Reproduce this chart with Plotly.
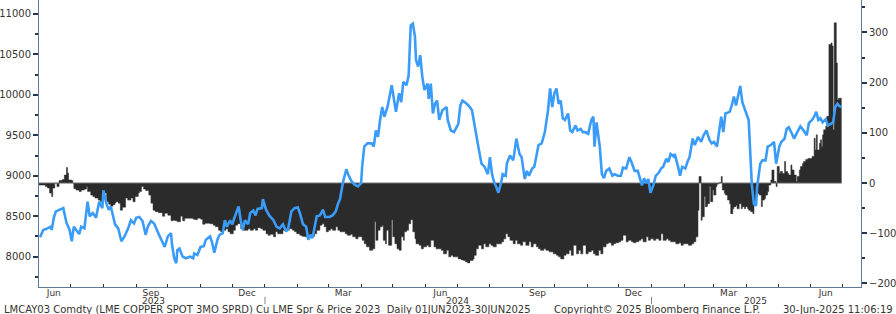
import pandas as pd
import plotly.graph_objects as go

start = pd.Timestamp("2023-06-01")

# LME copper cash price (left axis), day offset from 01-Jun-2023
price_day = [1,4,8,11,12,14,16,20,23,24,26,29,31,33,35,38,40,43,46,48,51,54,57,60,61,64,66,68,72,75,78,81,85,87,90,92,95,98,101,103,106,109,113,116,119,122,125,126,128,130,131,133,136,139,143,146,147,150,153,156,158,162,164,166,169,171,174,176,178,181,183,185,189,191,193,195,198,200,203,205,207,211,212,215,218,222,225,228,231,234,236,239,242,245,247,250,253,255,257,259,261,263,266,269,271,275,278,281,283,285,288,291,293,296,299,302,305,306,308,311,315,317,319,321,323,325,327,330,334,336,338,341,343,345,348,350,352,354,356,357,359,361,363,365,368,369,371,373,375,377,379,382,386,387,390,393,397,399,401,405,408,410,412,416,419,422,425,427,429,431,433,435,438,439,442,443,446,449,450,452,455,457,460,462,464,467,469,471,473,476,478,479,482,484,486,488,490,492,494,496,498,501,503,505,508,510,513,515,517,520,523,525,526,528,531,533,535,537,540,543,545,548,551,553,556,559,561,564,567,569,571,573,575,577,579,582,584,587,589,591,594,596,598,601,602,605,607,609,612,614,616,619,621,624,627,629,632,635,637,639,642,646,648,650,654,656,658,660,664,666,668,671,672,675,677,679,680,683,685,688,690,693,696,698,701,703,706,708,710,713,715,718,721,724,727,729,732,734,736,738,740,742,745,747,750,752,754,756,758,760]
price_val = [8240,8330,8350,8370,8330,8480,8560,8580,8600,8540,8420,8330,8190,8370,8330,8280,8370,8350,8680,8500,8540,8480,8680,8600,8820,8650,8580,8620,8400,8350,8190,8250,8370,8450,8410,8480,8490,8440,8270,8370,8440,8410,8290,8210,8120,8250,8290,8150,7980,7920,8080,8100,8000,7980,8000,7980,8040,8020,8120,8130,8210,8250,8170,8050,8210,8270,8290,8450,8370,8450,8400,8480,8620,8450,8330,8450,8400,8540,8570,8510,8590,8600,8710,8580,8510,8450,8370,8350,8400,8310,8350,8560,8600,8610,8540,8400,8370,8210,8270,8230,8370,8500,8510,8580,8490,8490,8510,8560,8650,8710,8930,9080,9010,8930,8890,8870,8910,9110,9360,9400,9400,9360,9560,9480,9690,9850,9730,9850,10120,9930,9790,10020,9910,10160,10120,10240,10860,10880,10720,10430,10350,10490,10220,10060,10140,9950,10140,9770,9890,9930,9690,9810,9850,9690,9560,9540,9640,9870,9930,9890,9850,9810,9640,9360,9150,9110,9020,9230,9020,8920,8860,8790,8940,9020,9000,9150,9250,9190,9270,9460,9270,9230,8960,9060,9000,9090,9110,9270,9380,9400,9520,9540,9810,10080,9850,10020,10080,9890,9930,9710,9690,9770,9560,9540,9620,9560,9580,9540,9540,9520,9690,9730,9360,9660,9360,9020,8970,9060,9090,9000,9020,9000,9000,9100,9090,9230,9170,9060,9060,8970,8880,8970,8910,8960,8790,8890,9000,9040,9090,9110,9210,9170,9270,9240,9270,9120,9000,9110,9090,9170,9230,9460,9380,9480,9420,9490,9560,9440,9400,9420,9360,9730,9540,9770,9790,9870,9980,9870,10110,9910,9830,9710,9690,8890,8650,8630,8860,9150,9190,9190,9360,9380,9420,9150,9360,9420,9460,9580,9600,9520,9460,9540,9610,9560,9500,9650,9690,9730,9790,9690,9710,9660,9700,9620,9650,9660,9850,9890,9860,9850]

# Cash-3M spread (right axis), day offset from 01-Jun-2023
spread_day = [0,5,6,8,10,12,13,15,17,19,22,24,26,27,28,31,32,33,35,38,40,43,45,46,49,51,53,56,58,61,62,64,66,68,70,72,73,75,77,79,82,84,87,89,91,94,95,97,99,101,104,106,108,110,113,115,117,119,122,125,127,129,131,134,136,138,141,143,146,148,150,153,155,157,159,162,165,167,170,172,174,177,179,181,184,186,188,191,193,196,198,200,203,205,207,210,212,215,217,219,222,224,226,229,231,234,236,237,240,242,244,247,249,252,254,256,259,261,263,266,268,270,272,274,276,278,281,283,285,288,290,292,295,297,300,302,304,306,308,310,313,316,318,319,321,323,325,326,328,329,331,334,335,337,339,341,343,345,346,348,350,352,354,356,357,360,362,364,367,369,371,374,376,379,381,383,386,388,390,392,395,397,400,402,404,406,408,411,412,414,416,419,421,423,426,428,430,433,435,438,440,442,444,446,449,451,453,456,458,461,464,466,468,471,473,475,478,480,483,485,487,490,492,494,497,499,502,504,506,509,511,513,515,518,520,523,525,527,530,532,534,537,539,542,544,546,549,551,553,556,558,561,563,565,568,570,572,575,577,579,582,584,587,589,591,594,596,598,601,603,606,608,610,613,615,618,620,622,624,625,627,628,630,631,633,635,636,638,639,641,642,644,646,647,649,650,652,654,655,657,658,660,661,663,665,666,668,669,671,672,674,676,677,679,680,682,684,685,687,688,690,691,693,694,696,698,699,701,702,704,706,707,709,710,712,713,715,717,718,720,721,723,724,726,728,729,731,732,734,735,736,737,739,740,741,742,743,745,746,748,750,751,752,753,755,756,757,760]
spread_val = [-4,-4,-7,-10,-20,-27,-10,0,-7,5,7,16,31,20,6,5,0,-11,-14,-17,-14,-12,-7,-17,-24,-27,-30,-34,-37,-17,-20,-37,-42,-46,-43,-39,-37,-40,-54,-48,-30,-34,-30,-37,-27,-20,-17,-7,-12,-15,-24,-40,-54,-57,-59,-59,-66,-60,-64,-75,-74,-75,-77,-66,-75,-70,-70,-70,-72,-73,-70,-72,-82,-80,-80,-81,-84,-87,-94,-97,-94,-91,-97,-101,-94,-84,-81,-91,-94,-94,-91,-94,-91,-94,-89,-91,-94,-101,-104,-102,-107,-97,-101,-101,-94,-91,-94,-91,-94,-97,-101,-104,-106,-107,-111,-109,-106,-101,-94,-84,-81,-87,-97,-94,-91,-94,-87,-94,-97,-97,-101,-104,-102,-107,-111,-107,-107,-114,-121,-127,-134,-131,-77,-114,-94,-87,-84,-114,-121,-94,-124,-73,-107,-121,-131,-134,-107,-114,-97,-94,-81,-73,-97,-111,-121,-124,-131,-127,-124,-127,-114,-127,-131,-131,-134,-141,-134,-147,-144,-147,-147,-151,-153,-154,-157,-159,-154,-151,-144,-131,-124,-131,-121,-127,-121,-124,-127,-121,-121,-117,-111,-101,-107,-114,-121,-114,-121,-124,-117,-124,-117,-127,-121,-127,-131,-134,-131,-134,-137,-137,-141,-144,-147,-151,-144,-141,-134,-144,-124,-141,-134,-141,-124,-141,-137,-134,-141,-144,-134,-141,-127,-121,-119,-124,-121,-119,-117,-114,-104,-117,-114,-117,-119,-117,-114,-111,-117,-107,-114,-111,-114,-111,-114,-101,-114,-111,-114,-117,-117,-121,-119,-124,-121,-121,-124,-121,-117,-107,-54,13,-74,-67,-27,-47,-41,-7,-37,-14,-24,-7,-2,1,13,-14,-21,-24,-34,-41,-61,-51,-47,-44,-51,-41,-51,-47,-51,-47,-51,-54,-57,-61,-41,-27,-21,-24,-47,-34,-31,-24,-17,-4,6,26,3,-7,33,19,23,19,43,23,19,16,36,26,16,3,13,26,33,39,43,47,49,49,49,53,89,66,96,66,79,86,73,96,106,113,133,276,279,273,106,319,239,166,169,169]

month_label_dates = ["2023-06-15", "2023-09-15", "2023-12-15", "2024-03-15", "2024-06-15",
                     "2024-09-15", "2024-12-15", "2025-03-15", "2025-06-15"]
month_labels = ["Jun", "Sep", "Dec", "Mar", "Jun", "Sep", "Dec", "Mar", "Jun"]
year_label_dates = ["2023-09-17", "2024-07-01", "2025-04-09"]
year_labels = ["2023", "2024", "2025"]
year_breaks = ["2024-01-01", "2025-01-01"]

price_dates = start + pd.to_timedelta(price_day, unit="D")
spread_dates = start + pd.to_timedelta(spread_day, unit="D")
month_starts = pd.date_range("2023-07-01", "2025-07-01", freq="MS")

FONT = "DejaVu Sans"
TXT = "#38332f"
AXC = "#5f7893"
TKC = "#22364d"

fig = go.Figure()
fig.add_trace(go.Scatter(
    x=spread_dates, y=spread_val, mode="lines", line=dict(shape="hv", width=0.5, color="#2b2b2b"),
    fill="tozeroy", fillcolor="#2b2b2b", yaxis="y", hoverinfo="skip", showlegend=False))
fig.add_trace(go.Scatter(
    x=[spread_dates[0], spread_dates[-1]], y=[0, 0], mode="lines",
    line=dict(color="#6a6a6a", width=1), yaxis="y", hoverinfo="skip", showlegend=False))
fig.add_trace(go.Scatter(
    x=price_dates, y=price_val, mode="lines", line=dict(color="#3a9cf8", width=2.6),
    yaxis="y2", showlegend=False))

fig.update_layout(
    width=896, height=314, autosize=False,
    margin=dict(l=39, r=35, t=0, b=27),
    paper_bgcolor="white", plot_bgcolor="white",
    font=dict(family=FONT, size=10, color=TXT),
    xaxis=dict(
        type="date", range=["2023-06-01", "2025-07-18 09:00"],
        showgrid=False, zeroline=False, showline=True, linecolor=AXC, linewidth=1,
        tickmode="array", tickvals=month_label_dates, ticktext=month_labels,
        ticks="inside", ticklen=0, ticklabelstandoff=-3, tickfont=dict(size=9, color=TXT),
        minor=dict(tickmode="array", tickvals=list(month_starts), ticks="inside",
                   ticklen=3, tickcolor=TKC, tickwidth=1, showgrid=False),
    ),
    yaxis=dict(
        side="right", range=[-207, 364.5], showgrid=False, zeroline=False,
        showline=True, linecolor=AXC, linewidth=1,
        tickmode="linear", tick0=0, dtick=100, ticks="outside", ticklen=5,
        tickcolor=TKC, tickwidth=1.5, tickfont=dict(size=10, color=TXT), tickformat="d",
        minor=dict(dtick=50, tick0=0, ticks="outside", ticklen=3, tickcolor=TKC, showgrid=False),
    ),
    yaxis2=dict(
        side="left", overlaying="y", range=[7625, 11173], showgrid=False, zeroline=False,
        showline=True, linecolor=AXC, linewidth=1,
        tickmode="linear", tick0=8000, dtick=500, ticks="outside", ticklen=5,
        tickcolor=TKC, tickwidth=1.5, tickfont=dict(size=10, color=TXT), tickformat="d",
        minor=dict(dtick=250, tick0=8000, ticks="outside", ticklen=3, tickcolor=TKC, showgrid=False),
    ),
)

for d, t in zip(year_label_dates, year_labels):
    fig.add_annotation(x=d, xref="x", y=-0.048, yref="paper", text=t, showarrow=False,
                       xanchor="center", yanchor="middle", font=dict(size=9, color=TXT))
for d in year_breaks:
    fig.add_shape(type="line", xref="x", yref="paper", x0=d, x1=d, y0=-0.034, y1=-0.06,
                  line=dict(color="#888888", width=1))

fig.add_annotation(x=-0.045, xref="paper", y=-0.077, yref="paper", xanchor="left", yanchor="middle",
                   text="LMCAY03 Comdty (LME COPPER SPOT 3MO SPRD) Cu LME Spr &amp; Price 2023\u00a0\u00a0Daily 01JUN2023-30JUN2025",
                   showarrow=False, font=dict(size=10, color=TXT))
fig.add_annotation(x=0.624, xref="paper", y=-0.077, yref="paper", xanchor="left", yanchor="middle",
                   text="Copyright\u00a9 2025 Bloomberg Finance L.P.", showarrow=False,
                   font=dict(size=10, color=TXT))
fig.add_annotation(x=1.0414, xref="paper", y=-0.077, yref="paper", xanchor="right", yanchor="middle",
                   text="30-Jun-2025 11:06:19", showarrow=False, font=dict(size=10, color=TXT))

fig.write_html("out.html")
